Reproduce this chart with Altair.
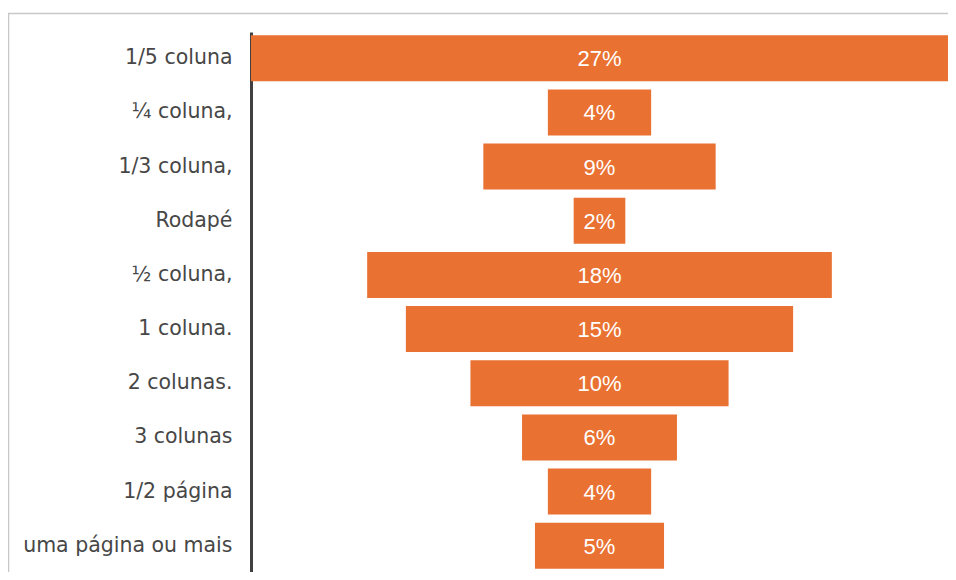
import altair as alt
import pandas as pd

categories = ["1/5 coluna", "¼ coluna,", "1/3 coluna,", "Rodapé", "½ coluna,",
              "1 coluna.", "2 colunas.", "3 colunas", "1/2 página", "uma página ou mais"]
values = [27, 4, 9, 2, 18, 15, 10, 6, 4, 5]
labels = ["27%", "4%", "9%", "2%", "18%", "15%", "10%", "6%", "4%", "5%"]

df = pd.DataFrame({"cat": categories, "v": values, "label": labels})
df["lo"] = -df["v"] / 2
df["hi"] = df["v"] / 2

ORANGE = "#E97132"

y_enc = alt.Y("cat:N", sort=categories,
              scale=alt.Scale(paddingInner=0.15, paddingOuter=0.06),
              axis=alt.Axis(title=None, ticks=False, labelPadding=19, labelLimit=400,
                            labelFont="DejaVu Sans", labelFontSize=20.5,
                            labelColor="#474747", domainColor="#404040",
                            domainWidth=3, grid=False))
x_scale = alt.Scale(domain=[-13.5, 13.5], nice=False, zero=False)

bars = alt.Chart(df).mark_bar(color=ORANGE).encode(
    x=alt.X("lo:Q", scale=x_scale, axis=None),
    x2="hi:Q",
    y=y_enc,
)

text = alt.Chart(df).mark_text(color="white", font="Liberation Sans", fontSize=22, dy=1).encode(
    x=alt.X("zero:Q", scale=x_scale, axis=None),
    y=alt.Y("cat:N", sort=categories),
    text="label:N",
).transform_calculate(zero="0")

frame_top = alt.Chart(df).mark_rule(color="#C8C8C8", strokeWidth=1.5).encode(
    x=alt.value(-243), x2=alt.value(720), y=alt.value(-18.5)
).transform_filter("datum.cat == '1/5 coluna'")
frame_left = alt.Chart(df).mark_rule(color="#C8C8C8", strokeWidth=1.5).encode(
    x=alt.value(-242.5), y=alt.value(-19), y2=alt.value(560)
).transform_filter("datum.cat == '1/5 coluna'")

chart = alt.layer(frame_top, frame_left, bars, text).properties(
    width=697, height=540,
    autosize=alt.AutoSizeParams(type="none"),
    padding={"left": 243, "top": 24, "right": 0, "bottom": 0},
).configure_view(stroke=None)

chart.save("out.html", embed_options={"renderer": "svg", "actions": False})
